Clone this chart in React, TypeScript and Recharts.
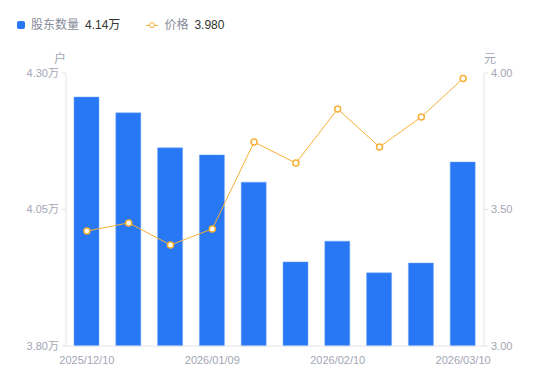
import { Bar, ComposedChart, Line, XAxis, YAxis } from 'recharts';

const dates = [
  '2025/12/10', '2025/12/20', '2025/12/31', '2026/01/09', '2026/01/20',
  '2026/01/30', '2026/02/10', '2026/02/20', '2026/02/28', '2026/03/10',
];
// 股东数量 (万户)
const holders = [4.256, 4.227, 4.163, 4.150, 4.100, 3.954, 3.992, 3.934, 3.952, 4.137];
// 价格 (元)
const prices = [3.421, 3.451, 3.370, 3.429, 3.747, 3.670, 3.868, 3.729, 3.839, 3.980];

const leftTicks = [3.8, 4.05, 4.3];
const rightTicks = [3.0, 3.5, 4.0];

const data = dates.map((d, i) => ({ date: d, holders: holders[i], price: prices[i] }));

const FONT = "'Liberation Sans', Arial, 'Noto Sans CJK SC', sans-serif";
const BLUE = '#2878f5';
const ORANGE = '#f7b035';
const GREY = '#a3a6b4';

export default function App() {
  return (
    <div style={{ position: 'relative', width: 550, height: 381, margin: -8, fontFamily: FONT }}>
      {/* legend */}
      <div style={{ position: 'absolute', top: 17, left: 17, display: 'flex', alignItems: 'center', fontSize: 12, lineHeight: '16px' }}>
        <span style={{ width: 8, height: 8, borderRadius: 2, background: BLUE, display: 'inline-block' }} />
        <span style={{ color: '#888b99', marginLeft: 6 }}>股东数量</span>
        <span style={{ color: '#333', marginLeft: 6 }}>4.14万</span>
        <span style={{ position: 'relative', width: 12, height: 8, marginLeft: 26, display: 'inline-block' }}>
          <span style={{ position: 'absolute', left: 0, top: 3.5, width: 12, height: 1, background: ORANGE }} />
          <span style={{ position: 'absolute', left: 2.5, top: 0.5, width: 4, height: 4, borderRadius: '50%', border: `1.5px solid ${ORANGE}`, background: '#fff' }} />
        </span>
        <span style={{ color: '#888b99', marginLeft: 6 }}>价格</span>
        <span style={{ color: '#333', marginLeft: 6 }}>3.980</span>
      </div>
      {/* axis units */}
      <span style={{ position: 'absolute', left: 54, top: 49, fontSize: 12, color: GREY }}>户</span>
      <span style={{ position: 'absolute', left: 484, top: 49, fontSize: 12, color: GREY }}>元</span>

      <ComposedChart width={550} height={381} data={data} margin={{ top: 73, right: 0, left: 0, bottom: 5 }}>
        <XAxis
          dataKey="date"
          interval={2}
          tickLine={false}
          axisLine={{ stroke: '#e3e4e8' }}
          tick={{ fill: GREY, fontSize: 11 }}
          tickMargin={4}
          height={30}
        />
        <YAxis
          yAxisId="left"
          domain={[3.8, 4.3]}
          ticks={leftTicks}
          width={66}
          tickSize={4}
          tickMargin={3}
          tickLine={{ stroke: '#e3e4e8' }}
          axisLine={{ stroke: '#e3e4e8' }}
          tick={{ fill: GREY, fontSize: 11 }}
          tickFormatter={(v) => `${v.toFixed(2)}万`}
        />
        <YAxis
          yAxisId="right"
          orientation="right"
          domain={[3, 4]}
          ticks={rightTicks}
          width={66}
          tickSize={4}
          tickMargin={3}
          tickLine={{ stroke: '#e3e4e8' }}
          axisLine={{ stroke: '#e3e4e8' }}
          tick={{ fill: GREY, fontSize: 11 }}
          tickFormatter={(v) => v.toFixed(2)}
        />
        <Bar yAxisId="left" dataKey="holders" fill={BLUE} stroke="#6fa4f8" strokeWidth={0.5} barSize={25} isAnimationActive={false} />
        <Line
          yAxisId="right"
          dataKey="price"
          stroke={ORANGE}
          strokeWidth={1}
          dot={{ r: 3, stroke: ORANGE, strokeWidth: 1.5, fill: '#fff' }}
          isAnimationActive={false}
        />
      </ComposedChart>
    </div>
  );
}
